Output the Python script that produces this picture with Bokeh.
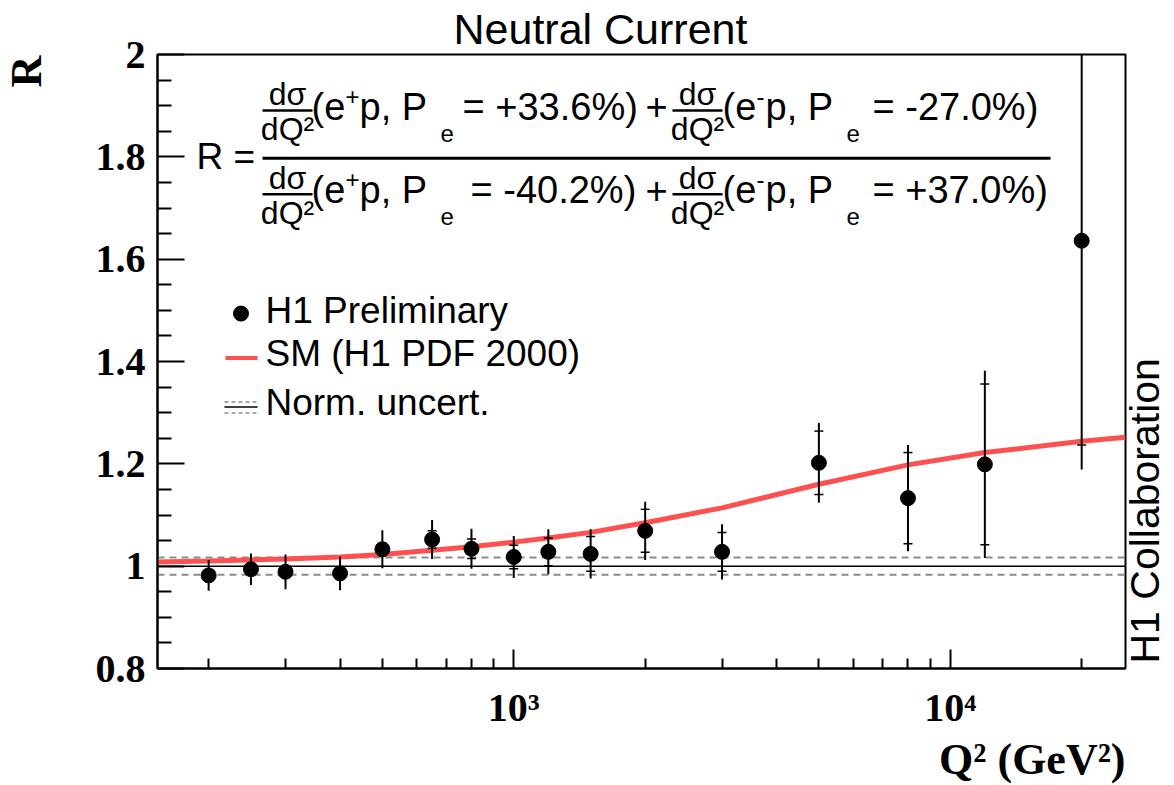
import math

from bokeh.embed import file_html
from bokeh.layouts import row
from bokeh.models import FixedTicker, Label, Range1d, Span
from bokeh.models import Title
from bokeh.plotting import figure
from bokeh.resources import INLINE

# ---- measured ratio R in bins of Q^2 (GeV^2) ----
q2 = [200, 250, 300, 400, 500, 650, 800, 1000, 1200, 1500, 2000, 3000, 5000, 8000, 12000, 20000]
r_meas = [0.982, 0.994, 0.989, 0.986, 1.033, 1.052, 1.034, 1.018, 1.028, 1.024,
          1.069, 1.028, 1.202, 1.133, 1.199, 1.636]
err_stat = [0.010, 0.010, 0.010, 0.011, 0.012, 0.017, 0.019, 0.023, 0.027, 0.034,
            0.042, 0.038, 0.062, 0.089, 0.157, 0.399]
err_tot = [0.030, 0.031, 0.034, 0.033, 0.037, 0.038, 0.039, 0.041, 0.044, 0.048,
           0.057, 0.054, 0.078, 0.104, 0.183, 0.447]

# ---- Standard Model expectation (H1 PDF 2000) ----
sm_q2 = [150, 200, 300, 400, 500, 650, 800, 1000, 1200, 1500, 2000, 3000, 5000,
         8000, 12000, 20000, 25200]
sm_r = [1.008, 1.010, 1.014, 1.018, 1.023, 1.031, 1.038, 1.047, 1.055, 1.066,
        1.085, 1.114, 1.160, 1.198, 1.222, 1.244, 1.252]

# normalisation uncertainty band around R = 1
norm_unc = 0.017

# ---- axis ticks ----
x_major = [1000, 10000]
x_major_labels = ["10³", "10⁴"]
x_minor = [200, 300, 400, 500, 600, 700, 800, 900,
           2000, 3000, 4000, 5000, 6000, 7000, 8000, 9000, 20000]
y_major = [0.8, 1.0, 1.2, 1.4, 1.6, 1.8, 2.0]
y_major_labels = ["0.8", "1", "1.2", "1.4", "1.6", "1.8", "2"]
y_minor = [0.85, 0.9, 0.95, 1.05, 1.1, 1.15, 1.25, 1.3, 1.35, 1.45, 1.5, 1.55,
           1.65, 1.7, 1.75, 1.85, 1.9, 1.95]

X_RANGE = (152.7, 25200.0)
Y_RANGE = (0.8, 2.0)

# page geometry (pixels): left strip | main plot | right strip
W, H = 1174, 785
LSTRIP_W = 50                    # holds the y-axis title
RSTRIP_W = 46                    # holds the collaboration tag
MAIN_W = W - LSTRIP_W - RSTRIP_W
LEFT, RIGHT, TOP, BOTTOM = 157, 1125, 53, 668   # frame edges in page pixels

SANS = "Liberation Sans"
SERIF = "Liberation Serif"
RED = "#ff5050"
GREY = "#8c8c8c"

p = figure(
    width=MAIN_W, height=H,
    x_axis_type="log",
    x_range=Range1d(*X_RANGE), y_range=Range1d(*Y_RANGE),
    output_backend="svg", toolbar_location=None,
    min_border_left=LEFT - LSTRIP_W, min_border_right=LSTRIP_W + MAIN_W - RIGHT,
    min_border_top=TOP, min_border_bottom=H - BOTTOM,
    background_fill_color="white", border_fill_color="white",
)
p.grid.visible = False
p.outline_line_color = "black"
p.outline_line_width = 2

# ---- title and x-axis title ----
p.title.text = "Neutral Current"
p.title.text_font = SANS
p.title.text_font_style = "normal"
p.title.text_font_size = "43px"
p.title.text_color = "black"
p.title.align = "left"
p.title.offset = 296
p.title.standoff = 4

p.add_layout(Title(text="Q² (GeV²)", text_font=SERIF, text_font_style="bold",
                   text_font_size="44px", text_color="black",
                   align="right", standoff=0), "below")

# ---- axes ----
xa = p.xaxis[0]
xa.ticker = FixedTicker(ticks=x_major, minor_ticks=x_minor)
xa.major_label_overrides = dict(zip(x_major, x_major_labels))
ya = p.yaxis[0]
ya.ticker = FixedTicker(ticks=y_major, minor_ticks=y_minor)
ya.major_label_overrides = dict(zip(y_major, y_major_labels))

for ax in (xa, ya):
    ax.axis_line_width = 2
    ax.axis_line_color = "black"
    ax.major_tick_out = 0
    ax.minor_tick_out = 0
    ax.major_tick_line_width = 2
    ax.minor_tick_line_width = 2
    ax.major_label_text_font = SERIF
    ax.major_label_text_font_style = "bold"
    ax.major_label_text_font_size = "40px"
    ax.major_label_text_color = "black"
xa.major_tick_in = 19
xa.minor_tick_in = 10
xa.major_label_standoff = 16
ya.major_tick_in = 27
ya.minor_tick_in = 14
ya.major_label_standoff = 12


def px_x(px):
    lx0, lx1 = math.log10(X_RANGE[0]), math.log10(X_RANGE[1])
    return 10 ** (lx0 + (px - LEFT) * (lx1 - lx0) / (RIGHT - LEFT))


def px_y(py):
    return Y_RANGE[0] + (BOTTOM - py) * (Y_RANGE[1] - Y_RANGE[0]) / (BOTTOM - TOP)


BASE_SHIFT = 0.39   # rendered baseline sits this fraction of the size lower


def text(px, py, s, size=38, font=SANS, style="normal", align="left"):
    p.add_layout(Label(
        x=px_x(px), y=px_y(py - BASE_SHIFT * size), text=s, text_font=font,
        text_font_size=f"{size}px", text_font_style=style,
        text_align=align, text_baseline="alphabetic", text_color="black",
    ))


def hbar(px0, px1, py, width, color="black", dash="solid"):
    p.segment(x0=[px_x(px0)], y0=[px_y(py)], x1=[px_x(px1)], y1=[px_y(py)],
              line_color=color, line_width=width, line_dash=dash)


# ---- reference line at R = 1 and normalisation band ----
p.add_layout(Span(location=1.0, dimension="width", line_color="black",
                  line_width=1.5, level="underlay"))
for sgn in (1, -1):
    p.add_layout(Span(location=1.0 + sgn * norm_unc, dimension="width",
                      line_color=GREY, line_width=2, line_dash="7 5",
                      level="underlay"))

# ---- SM curve ----
p.line(sm_q2, sm_r, line_color=RED, line_width=5)

# ---- data: total error bars, statistical ticks, markers ----
lo = [v - e for v, e in zip(r_meas, err_tot)]
hi = [v + e for v, e in zip(r_meas, err_tot)]
p.segment(x0=q2, y0=lo, x1=q2, y1=hi, line_color="black", line_width=2)
p.scatter(q2 + q2, [v - e for v, e in zip(r_meas, err_stat)] +
          [v + e for v, e in zip(r_meas, err_stat)],
          marker="dash", size=9, line_color="black", line_width=1.5)
p.scatter(q2, r_meas, marker="circle", size=15, fill_color="black",
          line_color="black")

# ---- ratio definition ----
text(196, 170, "R =", size=37)
hbar(262, 1050, 157, 3)


def fraction_half(base, cx, x_open, sup, sub_dx, x_eq, pol):
    text(cx, base - 15, "dσ", size=32, align="center")
    hbar(cx - 25, cx + 25, base - 11, 2.5)
    text(cx, base + 20, "dQ²", size=32, align="center")
    text(x_open, base, "(e")
    text(x_open + 34, base - 16, sup, size=24)
    text(x_open + 34 + (14 if sup == "+" else 9), base, "p, P")
    text(x_open + sub_dx, base + 21, "e", size=24)
    text(x_eq, base, "= " + pol + ")")


fraction_half(120, 287, 311, "+", 129, 462, "+33.6%")
fraction_half(120, 697, 722, "-", 124, 872, "-27.0%")
text(656, 120, "+", align="center")
fraction_half(204, 287, 311, "+", 129, 470, "-40.2%")
fraction_half(204, 697, 722, "-", 124, 872, "+37.0%")
text(656, 204, "+", align="center")

# ---- legend ----
p.scatter([px_x(240.5)], [px_y(312.5)], marker="circle", size=15,
          fill_color="black", line_color="black")
text(265, 324, "H1 Preliminary", size=37)
hbar(225, 257, 357, 4, color=RED)
text(265, 367, "SM (H1 PDF 2000)", size=37)
hbar(224, 257, 401, 1.5, color=GREY, dash="4 3")
hbar(224, 257, 406, 1.5)
hbar(224, 257, 412, 1.5, color=GREY, dash="4 3")
text(265, 416, "Norm. uncert.", size=37)


# ---- side strips: x in strip pixels, y in page pixels from the top ----
# (the row aligns every frame with the main plot's frame, TOP..BOTTOM)
def strip(width):
    s = figure(
        width=width, height=H, x_range=Range1d(0, width),
        y_range=Range1d(BOTTOM, TOP),
        x_axis_location=None, y_axis_location=None, title=None,
        min_border=0, output_backend="svg", toolbar_location=None,
        background_fill_color="white", border_fill_color="white",
    )
    s.outline_line_color = None
    s.grid.visible = False
    return s


left_strip = strip(LSTRIP_W)
r_size = 44
left_strip.add_layout(Label(
    x=43 - BASE_SHIFT * r_size, y=86, text="R", angle=math.pi / 2,
    text_font=SERIF, text_font_style="bold", text_font_size=f"{r_size}px",
    text_align="left", text_baseline="alphabetic", text_color="black",
))

right_strip = strip(RSTRIP_W)
tag_size = 41
right_strip.add_layout(Label(
    x=(1160 - LSTRIP_W - MAIN_W) - BASE_SHIFT * tag_size, y=663,
    text="H1 Collaboration", angle=math.pi / 2, text_font=SANS,
    text_font_size=f"{tag_size}px", text_align="left",
    text_baseline="alphabetic", text_color="black",
))

layout = row(left_strip, p, right_strip, spacing=0)
open("out.html", "w").write(file_html(layout, INLINE))
